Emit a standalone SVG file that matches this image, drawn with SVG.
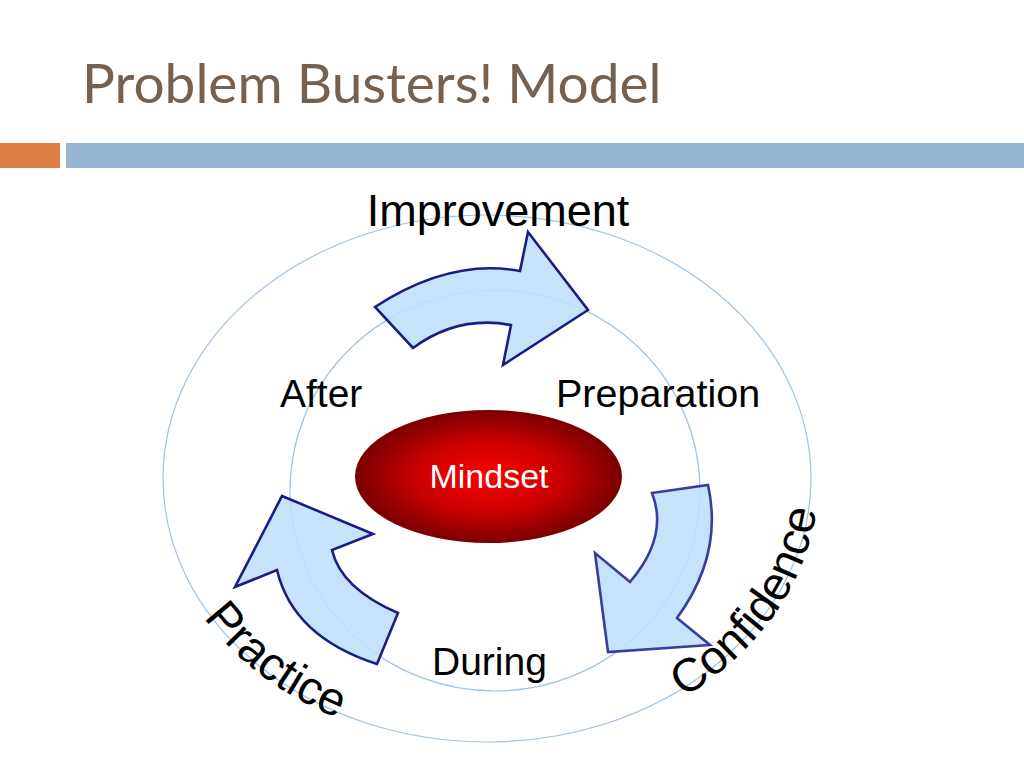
<svg xmlns="http://www.w3.org/2000/svg" xmlns:xlink="http://www.w3.org/1999/xlink" width="1024" height="768" viewBox="0 0 1024 768">
<style>
.lbl{font-family:"Liberation Sans",Arial,sans-serif;fill:#000}
.ring{fill:none;stroke:#9DC3E6;stroke-width:1.2}
.arrow{fill:#BEDFFA;fill-opacity:0.88;stroke:#1C1C86;stroke-width:2.6;stroke-linejoin:miter}
</style>
<defs>
<radialGradient id="red" cx="0.5" cy="0.5" r="0.5">
<stop offset="0" stop-color="#FF0000"/>
<stop offset="0.55" stop-color="#C80000"/>
<stop offset="1" stop-color="#7A0000"/>
</radialGradient>
<path id="pConf" d="M 601 733.7 A 331 270.5 0 0 0 798 386"/>
<path id="pPrac" d="M 161 431.5 A 329 268.5 0 0 0 429.5 742.9"/>
</defs>
<rect width="1024" height="768" fill="#FFFFFF"/>
<text x="82" y="103" font-family="Lato,'Open Sans',sans-serif" font-size="55" fill="#76604F">Problem Busters! Model</text>
<rect x="0" y="143" width="60" height="25" fill="#DD8047"/>
<rect x="66" y="143" width="958" height="25" fill="#94B6D2"/>
<g id="rings">
<ellipse class="ring" cx="487" cy="478.5" rx="324" ry="263.5"/>
<ellipse class="ring" cx="495" cy="490.5" rx="205" ry="200.5"/>
</g>
<g id="connectors">
<path id="arrowTop" class="arrow" d="M 375 307 Q 450 258 520 271 L 528 232 L 588 310 L 503 365 L 511 325 Q 458 315 413 348 Z"/>
<path id="arrowRight" class="arrow" style="stroke:#3A3C9E" d="M 652 493 L 708 485 Q 723.5 554.5 677 618 L 710 645 L 608 652 L 595 553 L 630 582 Q 669 536.5 652 493 Z"/>
<path id="arrowLeft" class="arrow" d="M 282 496 L 373 534 L 332 550 Q 341 588.5 398 613 L 377 664 Q 293 637 277 570 L 235 587 Z"/>
</g>
<g id="mindset">
<ellipse cx="488.5" cy="476.5" rx="133.5" ry="66.5" fill="url(#red)"/>
<text x="489" y="488" text-anchor="middle" font-family="'Liberation Sans',Arial,sans-serif" font-size="34" fill="#FFFFFF">Mindset</text>
</g>
<g id="after"><text class="lbl" x="280" y="407" font-size="39">After</text></g>
<g id="preparation"><text class="lbl" x="556" y="407" font-size="39.5">Preparation</text></g>
<g id="during"><text class="lbl" x="432" y="675" font-size="39">During</text></g>
<g id="improvement"><text class="lbl" x="498" y="226" font-size="45" text-anchor="middle">Improvement</text></g>
<g id="confidence"><text class="lbl" font-size="47"><textPath xlink:href="#pConf" startOffset="46%" text-anchor="middle">Confidence</textPath></text></g>
<g id="practice"><text class="lbl" font-size="47"><textPath xlink:href="#pPrac" startOffset="61%" text-anchor="middle">Practice</textPath></text></g>
</svg>
